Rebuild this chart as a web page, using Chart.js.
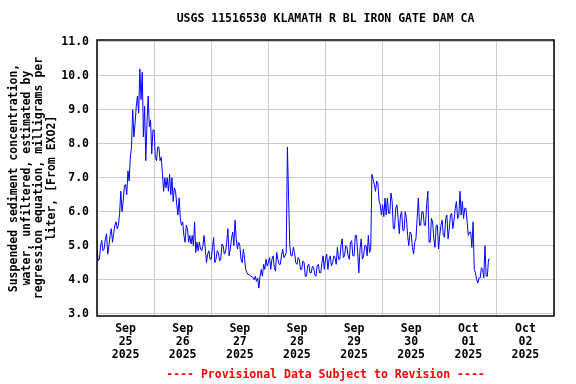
<!DOCTYPE html>
<html>
<head>
<meta charset="utf-8">
<script src="https://cdn.jsdelivr.net/npm/chart.js@4.4.1/dist/chart.umd.min.js"></script>
<style>
  html, body { margin: 0; padding: 0; background: #fff; }
  canvas { display: block; }
</style>
</head>
<body>
<canvas id="myChart" width="576" height="384"></canvas>
<script>
// half-hourly readings, index 0 = Sep 25 00:00
var sep25 = [4.9, 4.55, 4.6, 5.0, 5.15, 4.85, 4.9, 5.2, 5.35, 4.75, 5.0, 5.3, 5.5, 5.1, 5.35, 5.6, 5.7, 5.5, 5.6, 5.95, 6.6, 6.0, 6.3, 6.75,
             6.8, 6.5, 7.2, 6.9, 7.6, 7.9, 9.0, 8.2, 8.6, 9.1, 9.4, 8.9, 10.2, 9.3, 10.1, 8.2, 9.1, 7.5, 8.6, 9.4, 8.5, 8.7, 7.7, 8.4];
var sep26 = [8.4, 7.6, 7.5, 7.9, 7.9, 7.5, 7.6, 7.1, 6.6, 7.0, 6.7, 7.0, 6.6, 7.1, 6.5, 7.0, 6.3, 6.7, 6.6, 6.2, 5.9, 6.4, 5.8, 5.6,
             5.7, 5.3, 5.1, 5.6, 5.5, 5.1, 5.3, 5.05, 5.3, 5.0, 5.7, 4.8, 5.1, 4.85, 5.1, 4.9, 4.85, 5.0, 5.3, 4.9, 4.5, 4.75, 4.85, 4.6];
var sep27 = [4.6, 4.95, 5.24, 4.5, 4.6, 4.85, 4.8, 4.55, 4.6, 5.05, 5.0, 4.75, 4.8, 5.1, 5.5, 4.7, 4.9, 5.2, 5.4, 5.0, 5.75, 5.2, 4.9, 5.1,
             5.0, 4.6, 4.5, 4.9, 4.6, 4.3, 4.2, 4.15, 4.15, 4.1, 4.1, 4.05, 4.0, 4.1, 3.95, 4.05, 3.75, 4.1, 4.3, 4.1, 4.45, 4.3, 4.6, 4.4];
var sep28 = [4.5, 4.65, 4.3, 4.6, 4.7, 4.35, 4.25, 4.8, 4.6, 4.45, 4.45, 4.7, 4.9, 4.65, 4.7, 4.8, 7.9, 6.4, 5.0, 4.7, 4.7, 4.95, 4.8, 4.5,
             4.45, 4.65, 4.6, 4.3, 4.3, 4.55, 4.5, 4.1, 4.1, 4.4, 4.45, 4.2, 4.2, 4.4, 4.35, 4.15, 4.1, 4.4, 4.45, 4.2, 4.2, 4.5, 4.7, 4.3];
var sep29 = [4.6, 4.75, 4.3, 4.6, 4.7, 4.4, 4.5, 4.7, 4.65, 4.45, 4.95, 4.6, 4.6, 5.0, 5.2, 4.65, 4.7, 5.0, 4.95, 4.7, 4.6, 5.1, 5.15, 4.7,
             4.7, 5.3, 5.3, 4.8, 4.2, 4.9, 5.2, 4.6, 4.7, 5.0, 5.0, 4.7, 5.3, 4.8, 4.9, 7.1, 6.95, 6.8, 6.6, 6.9, 6.85, 6.3, 6.2, 5.9];
var sep30 = [6.2, 5.85, 6.4, 5.9, 6.4, 5.95, 5.95, 6.55, 6.3, 5.5, 5.5, 6.1, 6.2, 5.8, 5.35, 5.9, 6.0, 5.45, 5.45, 6.0, 5.8, 5.3, 5.0, 5.4,
             5.35, 4.95, 4.75, 5.1, 5.2, 5.8, 6.4, 5.6, 5.6, 6.0, 6.0, 5.6, 5.6, 6.2, 6.6, 5.1, 5.1, 5.8, 5.7, 5.2, 4.95, 5.6, 5.6, 4.9];
var oct01 = [5.3, 5.6, 5.75, 5.3, 5.25, 5.8, 5.9, 5.2, 5.5, 5.9, 5.95, 5.5, 5.75, 6.1, 6.3, 5.8, 5.85, 6.6, 5.9, 6.3, 5.8, 6.1, 6.1, 5.7,
             5.3, 5.4, 5.4, 4.95, 5.7, 4.3, 4.2, 4.0, 3.9, 4.05, 4.05, 4.35, 4.3, 4.05, 5.0, 4.1, 4.1, 4.6, 4.6];

var dayLabels = [["Sep", "25", "2025"], ["Sep", "26", "2025"], ["Sep", "27", "2025"], ["Sep", "28", "2025"],
                 ["Sep", "29", "2025"], ["Sep", "30", "2025"], ["Oct", "01", "2025"], ["Oct", "02", "2025"]];
var yTicks = [3, 4, 5, 6, 7, 8, 9, 10, 11];

var values = [].concat(sep25, sep26, sep27, sep28, sep29, sep30, oct01);
var points = values.map(function (v, i) { return { x: i * 0.5, y: v }; });

var monoFont = "'DejaVu Sans Mono', 'Liberation Mono', monospace";

var extras = {
  id: "extras",
  afterDraw: function (chart) {
    var c = chart.ctx;
    var a = chart.chartArea;
    c.save();
    c.strokeStyle = "#000";
    c.lineWidth = 1.5;
    c.strokeRect(a.left, a.top, a.right - a.left, a.bottom - a.top);
    c.font = "bold 11.5px " + monoFont;
    c.textAlign = "center";
    c.textBaseline = "middle";
    var cx = (a.left + a.right) / 2;
    c.fillStyle = "#000";
    c.fillText("USGS 11516530 KLAMATH R BL IRON GATE DAM CA", cx, 19);
    c.fillStyle = "#ff0000";
    c.fillText("---- Provisional Data Subject to Revision ----", cx, 375);
    c.restore();
  }
};

new Chart(document.getElementById("myChart"), {
  type: "line",
  data: {
    datasets: [
      {
        data: points,
        borderColor: "#0000ff",
        borderWidth: 1,
        pointRadius: 0,
        tension: 0,
        fill: false,
      },
    ],
  },
  options: {
    responsive: false,
    animation: false,
    layout: { padding: { top: 40, right: 22, bottom: 0, left: 0 } },
    plugins: { legend: { display: false }, tooltip: { enabled: false } },
    scales: {
      x: {
        type: "linear",
        min: 0,
        max: 192,
        afterFit: function (s) { s.height = 68; },
        border: { display: false },
        grid: {
          drawTicks: false,
          color: function (ctx) { return ctx.tick && ctx.tick.value % 24 === 0 ? "#cccccc" : "rgba(0,0,0,0)"; },
        },
        ticks: {
          stepSize: 12,
          autoSkip: false,
          maxRotation: 0,
          padding: 7,
          color: "#000",
          font: { family: monoFont, size: 11.5, weight: "bold", lineHeight: 1.13 },
          callback: function (v) {
            if (v % 24 === 12) return dayLabels[(v - 12) / 24];
            return "";
          },
        },
      },
      y: {
        min: 2.93,
        max: 11.05,
        afterFit: function (s) { s.width = 97; },
        afterBuildTicks: function (s) { s.ticks = yTicks.map(function (v) { return { value: v }; }); },
        border: { display: false },
        grid: { drawTicks: false, color: "#cccccc" },
        ticks: {
          padding: 8,
          color: "#000",
          font: { family: monoFont, size: 11.5, weight: "bold" },
          callback: function (v) { return Number(v).toFixed(1); },
        },
        title: {
          display: true,
          color: "#000",
          padding: { top: 7.7, bottom: 0 },
          font: { family: monoFont, size: 11.5, weight: "bold", lineHeight: 1.1 },
          text: ["Suspended sediment concentration,", "water, unfiltered, estimated by",
                 "regression equation, milligrams per", "liter, [From EXO2]"],
        },
      },
    },
  },
  plugins: [extras],
});
</script>
</body>
</html>
